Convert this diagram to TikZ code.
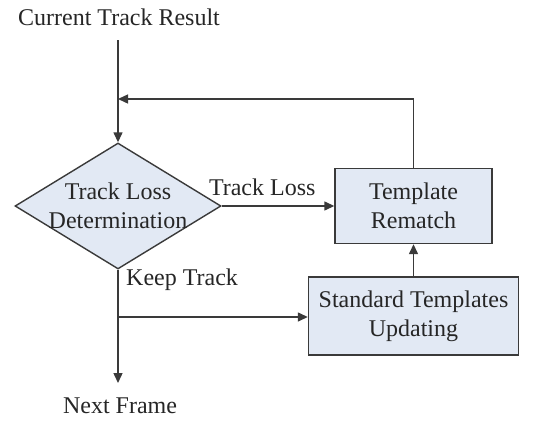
\documentclass[tikz,border=0pt]{standalone}
\usepackage{fontspec}
\setmainfont{Liberation Serif}
\usetikzlibrary{shapes.geometric,arrows.meta}
\definecolor{boxfill}{HTML}{E2E9F4}
\definecolor{linecol}{HTML}{3A3A3A}
\definecolor{txtcol}{HTML}{262626}
\begin{document}
\begin{tikzpicture}[x=1pt,y=-1pt,
  every node/.style={font=\fontsize{24}{29}\selectfont, text=txtcol, inner sep=0pt},
  boxnode/.style={draw=linecol, fill=boxfill, line width=1.4pt, align=center},
  conn/.style={draw=linecol, line width=1.4pt},
  arr/.style={conn, -{Triangle[length=10pt,width=9pt]}}]
\useasboundingbox (0,0) rectangle (536,423);
\fill[white] (0,0) rectangle (536,423);
% nodes
\node (start) at (119,17) {Current Track Result};
\coordinate (top) at (118,40);
\node[diamond, boxnode, minimum width=206pt, minimum height=126pt] (dec) at (118,206) {};
\node[align=center] (dectext) at (118,206) {Track Loss\\Determination};
\node[boxnode, minimum width=157pt, minimum height=75pt] (rem) at (413.5,206) {Template\\Rematch};
\node[boxnode, minimum width=210pt, minimum height=78pt] (upd) at (413.5,316) {Standard Templates\\Updating};
\node (next) at (120,406) {Next Frame};
\coordinate (merge) at (118,99);
\coordinate (fbcorner) at (413.5,99);
\coordinate (branch) at (118,317);
\coordinate (down) at (118,383);
% connectors
\draw[arr] (top) -- (dec.north);
\draw[conn] (rem.north) -- (fbcorner);
\draw[arr] (fbcorner) -- (merge);
\draw[arr] (dec.east) -- node[above=10pt, pos=0.36] (tl) {Track Loss} (rem.west);
\draw[conn] (dec.south) -- (branch);
\draw[arr] (branch) -- (down);
\draw[arr] (branch) -- (upd.west |- branch);
\draw[arr] (upd.north) -- (rem.south);
\node[anchor=west] (kt) at (126,280) {Keep Track};
\end{tikzpicture}
\end{document}
